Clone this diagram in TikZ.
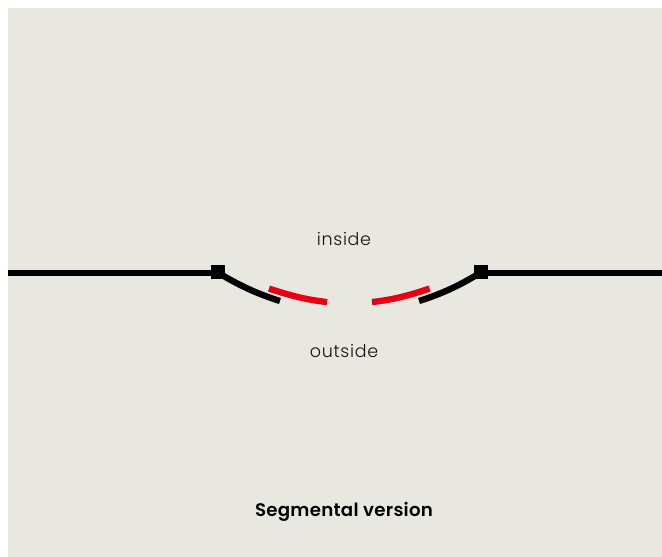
\documentclass[tikz,border=0pt]{standalone}
\usepackage{fontspec}
\setmainfont{Poppins}
\newfontfamily\lightfont[LetterSpace=4]{Poppins Light}
\newfontfamily\boldfont[LetterSpace=1.5]{Poppins SemiBold}
\definecolor{panel}{HTML}{E8E7E0}
\definecolor{seal}{HTML}{E60012}
\tikzset{
  x=1pt,y=-1pt,
  wall/.style={draw=black,line width=6.5pt},
  blade/.style={draw=black,line width=6.3pt},
  redblade/.style={draw=seal,line width=6.3pt},
  hinge/.style={fill=black,minimum size=14pt,inner sep=0pt},
  lbl/.style={font=\lightfont\fontsize{17.5}{20}\selectfont,text=black!92,inner sep=0pt},
  ttl/.style={font=\boldfont\fontsize{18.2}{20}\selectfont,text=black,inner sep=0pt}
}
\begin{document}
\begin{tikzpicture}
\useasboundingbox (0,0) rectangle (662,557);
\fill[panel] (8,8) rectangle (662,557);
\coordinate (wl) at (8,272.8);
\coordinate (wr) at (662,272.8);
\node[hinge] (hl) at (217.5,272.3) {};
\node[hinge] (hr) at (481,272.3) {};
\coordinate (bl) at (280,301);
\coordinate (br) at (419,301);
\coordinate (rl1) at (269,288.5);
\coordinate (rl2) at (327,302);
\coordinate (rr1) at (429.5,288.5);
\coordinate (rr2) at (372,302);
\draw[wall] (wl) -- (wl -| hl.center);
\draw[wall] (wr -| hr.center) -- (wr);
\draw[blade] (hl.center) .. controls (240,286) and (258,294) .. (bl);
\draw[blade] (hr.center) .. controls (459,286) and (441,294) .. (br);
\draw[redblade] (rl1) .. controls (288,295) and (307,300) .. (rl2);
\draw[redblade] (rr1) .. controls (411,295) and (392,300) .. (rr2);
\node[lbl] (inside) at (344,238.5) {inside};
\node[lbl] (outside) at (344,351) {outside};
\node[ttl] (title) at (344,512) {Segmental version};
\end{tikzpicture}
\end{document}
